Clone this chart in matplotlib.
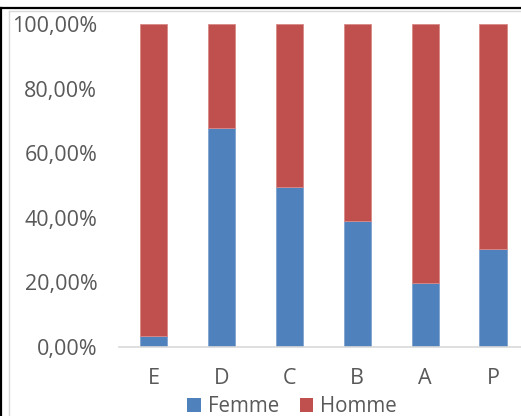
import matplotlib
matplotlib.use("Agg")
import matplotlib.pyplot as plt
from matplotlib.lines import Line2D
from matplotlib.patches import Patch
from matplotlib.ticker import FuncFormatter

categories = ["E", "D", "C", "B", "A", "P"]
femme = [0.034, 0.678, 0.494, 0.389, 0.197, 0.302]
homme = [1 - v for v in femme]
series_names = ["Femme", "Homme"]
colors = ["#4F81BD", "#C0504D"]

plt.rcParams['font.family'] = ['Open Sans', 'DejaVu Sans']

W, H = 521, 416
fig = plt.figure(figsize=(W / 100, H / 100), dpi=100)

# screenshot frame lines
fig.add_artist(Line2D([0, 1], [1 - 8 / H, 1 - 8 / H], color="black", lw=1.6, transform=fig.transFigure))
fig.add_artist(Line2D([0.8 / W, 0.8 / W], [0, 1 - 8 / H], color="black", lw=1.6, transform=fig.transFigure))
fig.add_artist(Line2D([9 / W, 1], [1 - 10.5 / H, 1 - 10.5 / H], color="#D9D9D9", lw=1.0, transform=fig.transFigure))
fig.add_artist(Line2D([9 / W, 9 / W], [0, 1 - 10.5 / H], color="#D9D9D9", lw=1.0, transform=fig.transFigure))

left = 119.5 / W
right = 527 / W
bottom = (H - 346.7) / H
top = (H - 24) / H
ax = fig.add_axes([left, bottom, right - left, top - bottom])

x = list(range(len(categories)))
ax.bar(x, femme, width=0.4, color=colors[0], edgecolor="#7FA3D1", linewidth=0.6, label=series_names[0])
ax.bar(x, homme, width=0.4, bottom=femme, color=colors[1], edgecolor="#D98A88", linewidth=0.6, label=series_names[1])

ax.set_xlim(-0.5, len(categories) - 0.5)
ax.set_ylim(0, 1)
ax.set_yticks([0, 0.2, 0.4, 0.6, 0.8, 1.0])
ax.yaxis.set_major_formatter(FuncFormatter(lambda v, p: f"{v*100:.2f}%".replace(".", ",")))
ax.set_xticks(x)
ax.set_xticklabels(categories)

for s in ["top", "right", "left"]:
    ax.spines[s].set_visible(False)
ax.spines["bottom"].set_color("#D9D9D9")
ax.spines["bottom"].set_linewidth(1.2)
ax.tick_params(axis="both", length=0, labelsize=15.5, colors="#595959")
ax.tick_params(axis="y", pad=16)
ax.tick_params(axis="x", pad=15.5)

handles = [Patch(facecolor=c) for c in colors]
fig.legend(handles, series_names, loc="center", bbox_to_anchor=(292 / W, 1 - 407 / H),
           ncol=2, frameon=False, fontsize=14.8, labelcolor="#595959",
           handlelength=0.65, handleheight=0.65, handletextpad=0.35, columnspacing=1.0,
           borderpad=0, borderaxespad=0)

fig.savefig("out.png", dpi=100)
